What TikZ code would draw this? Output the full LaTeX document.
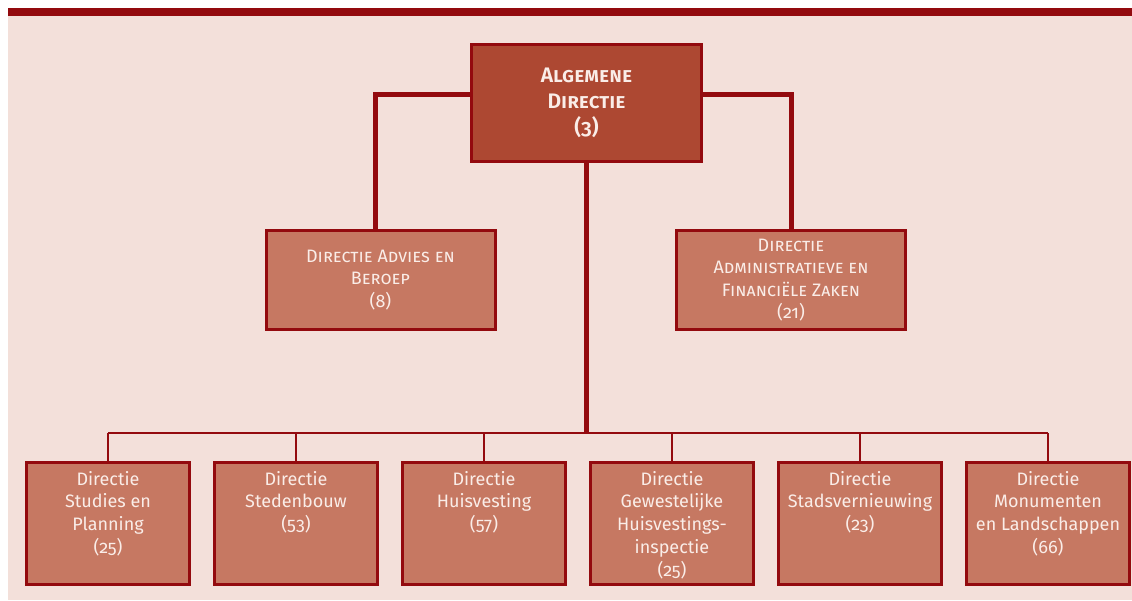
\documentclass[tikz,border=0pt]{standalone}
\usepackage{fontspec}
\setmainfont{Fira Sans}[Numbers=OldStyle]
\newfontfamily\titlefont{Fira Sans SemiBold}[Numbers=OldStyle]
\definecolor{bgpink}{HTML}{F3E0DA}
\definecolor{darkred}{HTML}{930A0E}
\definecolor{topfill}{HTML}{AD4832}
\definecolor{subfill}{HTML}{C67862}
\definecolor{txt}{HTML}{FAEDE8}
\tikzset{
  topbox/.style={draw=darkred, line width=3pt, fill=topfill, minimum width=230pt, minimum height=117pt, inner sep=0pt, text=txt, align=center, font=\fontsize{21}{26}\selectfont\titlefont},
  midbox/.style={draw=darkred, line width=3pt, fill=subfill, minimum width=229pt, minimum height=99pt, inner sep=0pt, text=txt, align=center, font=\fontsize{18}{22.5}\selectfont\scshape},
  botbox/.style={draw=darkred, line width=3pt, fill=subfill, minimum width=163pt, minimum height=122pt, inner sep=0pt},
  bottext/.style={anchor=north, text=txt, align=center, inner sep=0pt, font=\fontsize{18}{22.7}\selectfont},
  thickline/.style={darkred, line width=5pt},
  thinline/.style={darkred, line width=2.5pt},
}
\begin{document}
\begin{tikzpicture}[x=1pt,y=-1pt]
\useasboundingbox (0,0) rectangle (1132,601);
\fill[bgpink] (8,8) rectangle (1132,600);
\fill[darkred] (8,8) rectangle (1132,16);
\coordinate (tbc) at (586.5,103);
\coordinate (bus) at (586.5,433);
\node[topbox] (tb) at (tbc) {\scshape Algemene\\\scshape Directie\\(3)};
\node[midbox] (adv) at (380.5,280) {Directie Advies en\\Beroep\\(8)};
\node[midbox] (adm) at (791,280) {Directie\\Administratieve en\\Financiële Zaken\\(21)};
\foreach \i in {1,...,6}{
  \node[botbox] (b\i) at ({108+188*(\i-1)},523.5) {};
}
\draw[thickline] ([yshift=8pt]tb.west) -| ([xshift=-5pt]adv.north);
\draw[thickline] ([yshift=8pt]tb.east) -| (adm.north);
\draw[thickline] (tb.south) -- (bus);
\draw[thinline] (b1.north |- bus) -- (b6.north |- bus);
\foreach \i in {1,...,6}{
  \draw[thinline] (b\i.north) -- (b\i.north |- bus);
}
\node[bottext] (t1) at ([yshift=-10pt]b1.north) {Directie\\Studies en\\Planning\\(25)};
\node[bottext] (t2) at ([yshift=-10pt]b2.north) {Directie\\Stedenbouw\\(53)};
\node[bottext] (t3) at ([yshift=-10pt]b3.north) {Directie\\Huisvesting\\(57)};
\node[bottext] (t4) at ([yshift=-10pt]b4.north) {Directie\\Gewestelijke\\Huisvestings-\\inspectie\\(25)};
\node[bottext] (t5) at ([yshift=-10pt]b5.north) {Directie\\Stadsvernieuwing\\(23)};
\node[bottext] (t6) at ([yshift=-10pt]b6.north) {Directie\\Monumenten\\en Landschappen\\(66)};
\end{tikzpicture}
\end{document}
